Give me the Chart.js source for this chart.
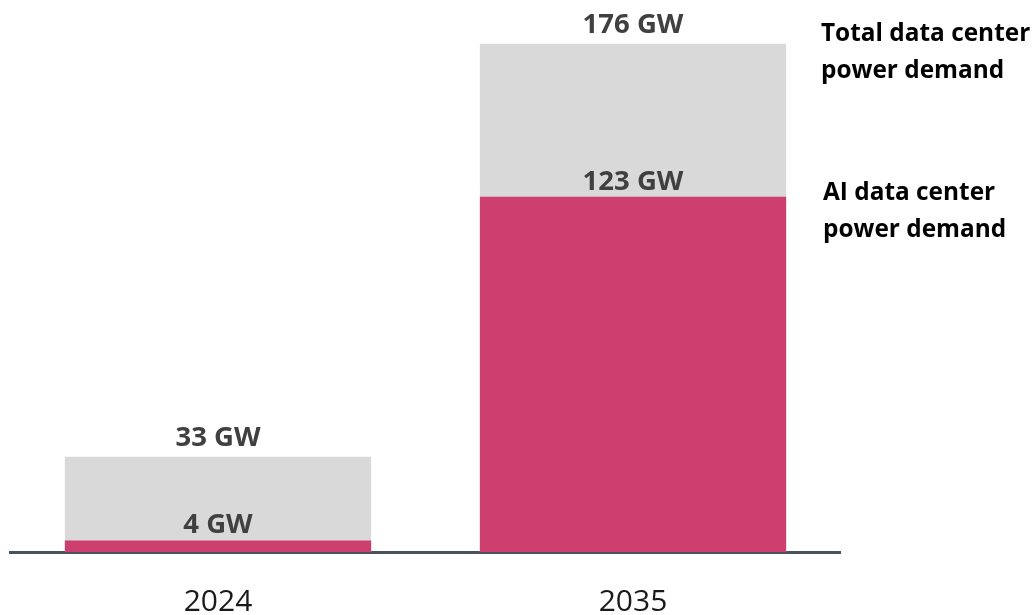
<!DOCTYPE html>
<html>
<head>
<meta charset="utf-8">
<script src="https://cdn.jsdelivr.net/npm/chart.js@4.4.0/dist/chart.umd.min.js"></script>
<style>
  html, body { margin: 0; padding: 0; background: #ffffff; }
  #wrap { width: 1035px; height: 615px; }
</style>
</head>
<body>
<div id="wrap"><canvas id="c" width="1035" height="615"></canvas></div>
<script>
// ---- data ----
const categories = ['2024', '2035'];
const totalDemand = [33, 176];   // GW
const aiDemand = [4, 123];       // GW
const seriesNames = ['Total data center power demand', 'AI data center power demand'];
const legendLines = [['Total data center', 'power demand'], ['AI data center', 'power demand']];
const unit = 'GW';

const PINK = '#CC3F6E';
const GREY = '#D9D9D9';
const AXIS = '#4A535C';
const LABEL = '#404040';
const FONT = '"Open Sans", "Noto Sans", sans-serif';

const labelsPlugin = {
  id: 'valueLabels',
  afterDatasetsDraw(chart) {
    const ctx = chart.ctx;
    ctx.save();
    ctx.textAlign = 'center';
    ctx.textBaseline = 'alphabetic';
    ctx.font = 'bold 27.5px ' + FONT;
    ctx.fillStyle = LABEL;
    chart.data.datasets.forEach((ds, di) => {
      const meta = chart.getDatasetMeta(di);
      const gap = ds.labelGap;
      meta.data.forEach((bar, i) => {
        ctx.fillText(ds.data[i] + ' ' + unit, bar.x, bar.y - gap);
      });
    });
    // side legend labels, aligned with the last category's bars
    const ys = chart.scales.y;
    const last = categories.length - 1;
    ctx.textAlign = 'left';
    ctx.fillStyle = '#000000';
    ctx.font = 'bold 24.4px ' + FONT;
    const anchors = [
      { v: totalDemand[last], dy: -2.5, x: 821 },
      { v: aiDemand[last], dy: 3.5, x: 823 }
    ];
    anchors.forEach((a, k) => {
      const y0 = ys.getPixelForValue(a.v) + a.dy;
      legendLines[k].forEach((line, j) => {
        ctx.fillText(line, a.x, y0 + j * 36.5);
      });
    });
    ctx.restore();
  }
};

new Chart(document.getElementById('c'), {
  type: 'bar',
  data: {
    labels: categories,
    datasets: [
      {
        label: seriesNames[1],
        data: aiDemand,
        backgroundColor: PINK,
        grouped: false,
        order: 0,
        labelGap: 7,
        barPercentage: 0.738,
        categoryPercentage: 1
      },
      {
        label: seriesNames[0],
        data: totalDemand,
        backgroundColor: GREY,
        grouped: false,
        order: 1,
        labelGap: 11,
        barPercentage: 0.738,
        categoryPercentage: 1
      }
    ]
  },
  options: {
    responsive: false,
    animation: false,
    devicePixelRatio: 1,
    layout: { padding: { left: 10.5, right: 194.5, top: 32.3, bottom: 0 } },
    plugins: { legend: { display: false }, tooltip: { enabled: false } },
    scales: {
      x: {
        grid: { display: false, drawTicks: false },
        border: { display: true, color: AXIS, width: 3 },
        ticks: {
          color: '#1a1a1a',
          font: { family: FONT, size: 30, weight: 'normal' },
          padding: 32
        },
        afterFit(scale) { scale.height = 63; }
      },
      y: {
        display: false,
        min: 0,
        max: 180
      }
    }
  },
  plugins: [labelsPlugin]
});
</script>
</body>
</html>
